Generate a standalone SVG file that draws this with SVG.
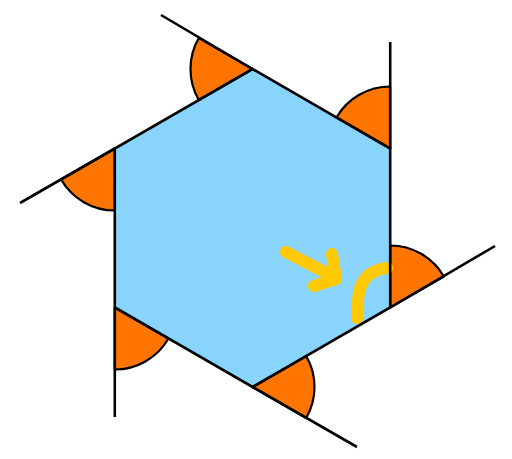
<svg xmlns="http://www.w3.org/2000/svg" width="512" height="459" viewBox="0 0 512 459">
<style>
.hex{fill:#89D4FC;stroke:none}
.sec{fill:#FF7500;stroke:#000;stroke-width:2.2;stroke-linejoin:round}
.ln{fill:none;stroke:#000;stroke-width:2.6;stroke-linecap:butt;stroke-linejoin:miter}
.hl{fill:none;stroke:#FFC800;stroke-width:12;stroke-linecap:round;stroke-linejoin:round}
</style>
<rect width="512" height="459" fill="#fff"/>
<g id="hexagon">
<polygon class="hex" points="252.5,69 390.2,148.5 390.2,307.5 252.5,387 114.8,307.5 114.8,148.5"/>
</g>
<g id="angles">
<path id="angle-top" class="sec" d="M252.5,69 L198.8,38 A62,62 0 0 0 198.8,100 Z"/>
<path id="angle-upper-right" class="sec" d="M390.2,148.5 L390.2,86.5 A62,62 0 0 0 336.5,117.5 Z"/>
<path id="angle-lower-right" class="sec" d="M390.2,307.5 L390.2,245.5 A62,62 0 0 1 443.9,276.5 Z"/>
<path id="angle-bottom" class="sec" d="M252.5,387 L306.2,356 A62,62 0 0 1 306.2,418 Z"/>
<path id="angle-lower-left" class="sec" d="M114.8,307.5 L168.5,338.5 A62,62 0 0 1 114.8,369.5 Z"/>
<path id="angle-upper-left" class="sec" d="M114.8,148.5 L114.8,210.5 A62,62 0 0 1 61.1,179.5 Z"/>
</g>
<g id="highlight">
<path class="hl" d="M286,252 L336,278 M332,254 L336,279 L314,286"/>
<path class="hl" d="M387,268 C367,270 359,283 358,300 L357,318"/>
</g>
<g id="connectors">
<path class="ln" d="M161,15 L252.5,69"/>
<path class="ln" d="M390.2,42 L390.2,148.5"/>
<path class="ln" d="M495,246 L390.2,307.5"/>
<path class="ln" d="M357,447 L252.5,387"/>
<path class="ln" d="M114.8,417 L114.8,307.5"/>
<path class="ln" d="M20,203 L114.8,148.5"/>
<polygon class="ln" points="252.5,69 390.2,148.5 390.2,307.5 252.5,387 114.8,307.5 114.8,148.5"/>
</g>
</svg>
